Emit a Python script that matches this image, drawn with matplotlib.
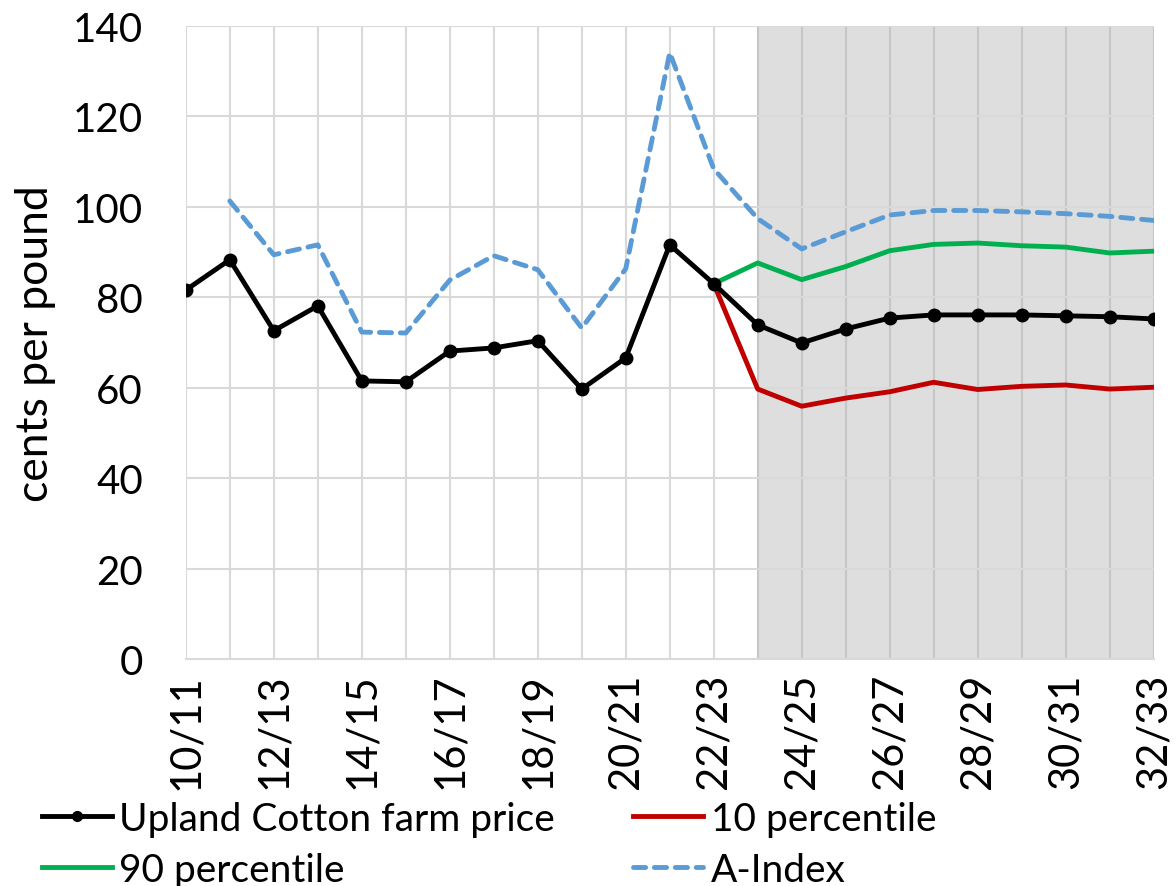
import matplotlib.pyplot as plt

plt.rcParams["font.family"] = ["Lato", "DejaVu Sans"]

years = ["10/11", "11/12", "12/13", "13/14", "14/15", "15/16", "16/17", "17/18",
         "18/19", "19/20", "20/21", "21/22", "22/23", "23/24", "24/25", "25/26",
         "26/27", "27/28", "28/29", "29/30", "30/31", "31/32", "32/33"]

farm_price = [81.6, 88.3, 72.6, 78.1, 61.5, 61.3, 68.1, 68.8, 70.4, 59.7, 66.6,
              91.6, 83.0, 73.9, 69.9, 73.0, 75.4, 76.1, 76.1, 76.1, 75.9, 75.7, 75.2]

# A-Index starts one season later
a_index = [None, 101.3, 89.4, 91.6, 72.3, 72.1, 83.8, 89.2, 86.1, 73.2, 86.3,
           134.1, 108.4, 97.4, 90.7, 94.5, 98.2, 99.2, 99.2, 98.9, 98.5, 97.9, 97.0]

# percentile bands from 22/23 onward
pct90 = [83.0, 87.6, 83.9, 86.8, 90.3, 91.7, 92.0, 91.4, 91.1, 89.8, 90.2]
pct10 = [83.0, 59.7, 55.9, 57.7, 59.1, 61.2, 59.6, 60.3, 60.6, 59.7, 60.1]

x = list(range(len(years)))
x_band = x[12:]
x_a = [i for i, v in zip(x, a_index) if v is not None]
a_vals = [v for v in a_index if v is not None]

fig = plt.figure(figsize=(11.76, 8.87), dpi=100)
ax = fig.add_axes([0.158, 0.256, 0.823, 0.7135])

# projection period shading
ax.axvspan(13, 22, color="#dedede", zorder=0, lw=0)

for i in x:
    ax.axvline(i, color="#c6c6c6" if i >= 13 else "#d9d9d9", lw=1.5, zorder=1)
for yv in range(20, 141, 20):
    ax.axhline(yv, color="#d9d9d9", lw=1.5, zorder=1)

ax.plot(x_a, a_vals, color="#5b9bd5", lw=3.5, ls=(0, (2.5, 1.8)),
        dash_capstyle="round", label="A-Index", zorder=3)
ax.plot(x_band, pct90, color="#00b050", lw=3.5, label="90 percentile", zorder=3)
ax.plot(x_band, pct10, color="#c00000", lw=3.5, label="10 percentile", zorder=3)
ax.plot(x, farm_price, color="black", lw=3.5, marker="o", ms=9,
        label="Upland Cotton farm price", zorder=4)

ax.set_xlim(0, 22)
ax.set_ylim(0, 140)
ax.set_yticks(range(0, 141, 20))
ax.set_xticks(x)
ax.set_xticklabels([y if i % 2 == 0 else "" for i, y in enumerate(years)],
                   rotation=90)
ax.tick_params(axis="x", length=0, labelsize=30, pad=10)
ax.tick_params(axis="y", length=0, labelsize=29, pad=31)
for lbl in ax.get_yticklabels():
    lbl.set_horizontalalignment("right")
ax.set_ylabel("cents per pound", fontsize=32, labelpad=12)

for side in ["top", "right", "left"]:
    ax.spines[side].set_visible(False)
ax.spines["bottom"].set_color("#d9d9d9")
ax.spines["bottom"].set_linewidth(1.5)

handles, labels = ax.get_legend_handles_labels()
order = [3, 1, 2, 0]
leg = ax.legend([handles[i] for i in order], [labels[i] for i in order], ncol=2,
                loc="upper left", bbox_to_anchor=(-0.165, -0.20), frameon=False,
                fontsize=28, handlelength=1.8, handletextpad=0.2,
                columnspacing=2.0, labelspacing=0.38, borderaxespad=0)
leg.legend_handles[0].set_markersize(7)

fig.savefig("out.png", dpi=100)
